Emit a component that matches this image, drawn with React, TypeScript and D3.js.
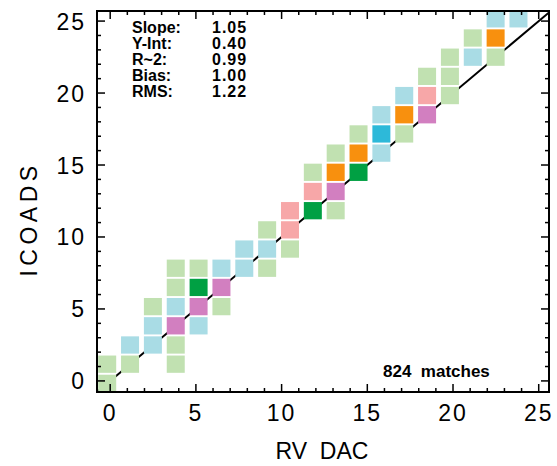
import React from "react";
import * as d3 from "d3";

// ---- data ----
const levelColors = ["#c1e1b1", "#a9dce5", "#d27fc0", "#f7a7a8", "#00a043", "#f8900e", "#2db9d9"];
// bin indices (column = RV DAC bin, row = ICOADS bin) and colour level of each occupied cell
const cellCol = [0, 0, 1, 1, 2, 2, 2, 3, 3, 3, 3, 3, 3, 4, 4, 4, 4, 5, 5, 5, 6, 6, 7, 7, 7, 8, 8, 8, 9, 9, 9, 10, 10, 10, 10, 11, 11, 11, 12, 12, 12, 13, 13, 13, 14, 14, 14, 15, 15, 15, 16, 16, 17, 17, 17, 18];
const cellRow = [0, 1, 1, 2, 2, 3, 4, 1, 2, 3, 4, 5, 6, 3, 4, 5, 6, 4, 5, 6, 6, 7, 6, 7, 8, 7, 8, 9, 9, 10, 11, 9, 10, 11, 12, 11, 12, 13, 12, 13, 14, 13, 14, 15, 14, 15, 16, 15, 16, 17, 17, 18, 17, 18, 19, 19];
const cellLevel = [0, 0, 0, 1, 1, 1, 0, 0, 0, 2, 1, 0, 0, 1, 2, 4, 0, 0, 2, 1, 1, 1, 0, 1, 0, 0, 3, 3, 4, 3, 0, 0, 2, 5, 0, 4, 5, 0, 1, 6, 1, 0, 5, 1, 2, 3, 0, 0, 0, 0, 1, 0, 0, 5, 1, 1];
const binStart = -0.77;
const binWidth = 1.333;
const tickValues = [0, 5, 10, 15, 20, 25];
const minorTickValues = d3.range(0, 26);
const statLabels = ["Slope:", "Y-Int:", "R~2:", "Bias:", "RMS:"];
const statValues = ["1.05", "0.40", "0.99", "1.00", "1.22"];
const matchesText = "824  matches";
const xTitle = "RV  DAC";
const yTitle = "ICOADS";

const W = 557, H = 466;
const L = 97, R = 549, T = 11, B = 392;

export default function App() {
  const x = d3.scaleLinear().domain([-0.77, 25.6]).range([L, R]);
  const y = d3.scaleLinear().domain([-0.77, 25.7]).range([B, T]);
  const cw = 1.05, ch = 1.2, cdx = 0.07;
  const lineGen = d3.line<number>().x((d) => x(d)).y((d) => y(d));
  const font = "'Liberation Sans', Arial, Helvetica, sans-serif";
  const major = 8, minor = 4;
  return (
    <svg width={W} height={H} style={{ position: "absolute", left: 0, top: 0, background: "#fff" }}>
      <defs>
        <clipPath id="plot"><rect x={L} y={T} width={R - L} height={B - T} /></clipPath>
      </defs>
      <rect x={0} y={0} width={W} height={H} fill="#fff" />
      {/* 1:1 line */}
      <path d={lineGen([-0.77, 25.6]) || ""} stroke="#000" strokeWidth={2} fill="none" clipPath="url(#plot)" />
      {/* cells */}
      <g clipPath="url(#plot)">
        {cellCol.map((c, i) => {
          const x0 = binStart + c * binWidth + cdx;
          const y0 = binStart + cellRow[i] * binWidth;
          return (
            <rect key={i} x={x(x0)} y={y(y0 + ch)} width={x(x0 + cw) - x(x0)} height={y(y0) - y(y0 + ch)}
              fill={levelColors[cellLevel[i]]} />
          );
        })}
      </g>
      {/* ticks */}
      <g stroke="#000" strokeWidth={1.5}>
        {minorTickValues.map((v) => {
          const len = v % 5 === 0 ? major : minor;
          return (
            <g key={v}>
              <line x1={x(v)} x2={x(v)} y1={B} y2={B - len} />
              <line x1={x(v)} x2={x(v)} y1={T} y2={T + len} />
              <line x1={L} x2={L + len} y1={y(v)} y2={y(v)} />
              <line x1={R} x2={R - len} y1={y(v)} y2={y(v)} />
            </g>
          );
        })}
      </g>
      <rect x={L} y={T} width={R - L} height={B - T} fill="none" stroke="#000" strokeWidth={2} />
      {/* tick labels */}
      <g fontFamily={font} fontSize={23} fill="#000">
        {tickValues.map((v) => (
          <text key={"x" + v} x={x(v)} y={421} textAnchor="middle" letterSpacing={2}>{v}</text>
        ))}
        {tickValues.map((v) => (
          <text key={"y" + v} x={86} y={y(v) + 8.5} textAnchor="end" letterSpacing={2}>{v}</text>
        ))}
        <text x={322} y={459} textAnchor="middle" style={{ whiteSpace: "pre" }}>{xTitle}</text>
        <text transform={`translate(37,219) rotate(-90)`} textAnchor="middle" letterSpacing={4.5}>{yTitle}</text>
      </g>
      {/* stats */}
      <g fontFamily={font} fontSize={16} fontWeight="bold" fill="#000">
        {statLabels.map((s, i) => (
          <text key={s} x={132} y={33 + i * 16}>{s}</text>
        ))}
        {statValues.map((s, i) => (
          <text key={"v" + i} x={212} y={33 + i * 16} letterSpacing={1}>{s}</text>
        ))}
        <text x={383} y={377} style={{ whiteSpace: "pre" }} fontSize={17}>{matchesText}</text>
      </g>
    </svg>
  );
}
